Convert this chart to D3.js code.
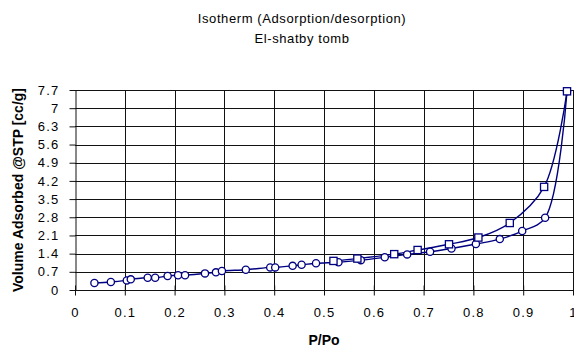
<!DOCTYPE html>
<html>
<head>
<meta charset="utf-8">
<script src="https://cdn.jsdelivr.net/npm/d3@7"></script>
<style>
  body { margin: 0; background: #fff; }
  svg { display: block; font-family: "Liberation Sans", Arial, sans-serif; }
</style>
</head>
<body>
<svg id="chart" width="574" height="347"></svg>
<script>
// ---- data ----
const titleLines = ["Isotherm (Adsorption/desorption)", "El-shatby tomb"];
const xTitle = "P/Po";
const yTitle = "Volume Adsorbed @STP [cc/g]";

const adsP = [0.039, 0.072, 0.104, 0.112, 0.146, 0.161, 0.186, 0.207, 0.221, 0.261,
              0.283, 0.295, 0.343, 0.392, 0.402, 0.437, 0.455, 0.484, 0.529, 0.574,
              0.622, 0.667, 0.713, 0.756, 0.805, 0.853, 0.898, 0.944, 0.988];
const adsV = [0.27, 0.31, 0.37, 0.41, 0.47, 0.47, 0.54, 0.57, 0.57, 0.64,
              0.68, 0.73, 0.78, 0.87, 0.87, 0.93, 0.97, 1.03, 1.07, 1.15,
              1.26, 1.37, 1.47, 1.60, 1.77, 1.96, 2.27, 2.78, 7.65];

const desP = [0.988, 0.942, 0.873, 0.810, 0.751, 0.688, 0.641, 0.567, 0.519];
const desV = [7.65, 3.97, 2.58, 2.02, 1.76, 1.54, 1.38, 1.21, 1.12];

const xTicks = [0, 0.1, 0.2, 0.3, 0.4, 0.5, 0.6, 0.7, 0.8, 0.9, 1];
const xTickLabels = ["0", "0.1", "0.2", "0.3", "0.4", "0.5", "0.6", "0.7", "0.8", "0.9", "1"];
const yTicks = [0, 0.7, 1.4, 2.1, 2.8, 3.5, 4.2, 4.9, 5.6, 6.3, 7, 7.7];
const yTickLabels = ["0", "0.7", "1.4", "2.1", "2.8", "3.5", "4.2", "4.9", "5.6", "6.3", "7", "7.7"];

// ---- layout ----
const svg = d3.select("#chart");
const plotL = 75, plotR = 573, plotT = 90, plotB = 290;
const navy = "#000080";
const fontFam = "'Liberation Sans', Arial, sans-serif";

const x = d3.scaleLinear().domain([0, 1]).range([plotL, plotR]);
const y = d3.scaleLinear().domain([0, 7.7]).range([plotB, plotT]);

// gridlines
const grid = svg.append("g").attr("stroke", "#111").attr("stroke-width", 1).attr("shape-rendering", "crispEdges");
grid.selectAll(".h").data(yTicks.slice(1)).join("line")
  .attr("x1", plotL).attr("x2", 574)
  .attr("y1", d => Math.round(y(d)) + 0.5).attr("y2", d => Math.round(y(d)) + 0.5);
grid.selectAll(".v").data(xTicks.slice(1)).join("line")
  .attr("y1", plotT).attr("y2", plotB)
  .attr("x1", d => Math.round(x(d)) + 0.5).attr("x2", d => Math.round(x(d)) + 0.5);

// axes
const xAxis = d3.axisBottom(x).tickValues(xTicks)
  .tickFormat((d, i) => xTickLabels[i]).tickSizeInner(5).tickSizeOuter(0).tickPadding(12);
const gx = svg.append("g").attr("transform", `translate(0,${plotB + 0.5})`).call(xAxis);
gx.select(".domain").attr("stroke", "#111").attr("d", `M${plotL},0H${574}`);
gx.selectAll(".tick line").attr("stroke", "#111").attr("y1", -5).attr("y2", 5);
gx.selectAll(".tick text").attr("font-size", 13).attr("fill", "#000")
  .attr("font-family", fontFam).attr("letter-spacing", "1.2px");

const yAxis = d3.axisLeft(y).tickValues(yTicks)
  .tickFormat((d, i) => yTickLabels[i]).tickSizeInner(6).tickSizeOuter(0).tickPadding(10);
const gy = svg.append("g").attr("transform", `translate(${plotL + 0.5},0)`).call(yAxis);
gy.select(".domain").attr("stroke", "#111");
gy.selectAll(".tick line").attr("stroke", "#111");
gy.selectAll(".tick text").attr("font-size", 13).attr("fill", "#000")
  .attr("font-family", fontFam).attr("letter-spacing", "1.2px");

// lines
const line = d3.line().x(d => x(d[0])).y(d => y(d[1])).curve(d3.curveCatmullRom.alpha(0.5));
const ads = adsP.map((p, i) => [p, adsV[i]]);
const des = desP.map((p, i) => [p, desV[i]]);

svg.append("path").datum(ads).attr("d", line)
  .attr("fill", "none").attr("stroke", navy).attr("stroke-width", 1.4);
svg.append("path").datum(des).attr("d", line)
  .attr("fill", "none").attr("stroke", navy).attr("stroke-width", 1.4);

// markers
svg.append("g").selectAll("circle").data(ads).join("circle")
  .attr("cx", d => x(d[0])).attr("cy", d => y(d[1])).attr("r", 3.6)
  .attr("fill", "#fff").attr("stroke", navy).attr("stroke-width", 1.3);
svg.append("g").selectAll("rect").data(des).join("rect")
  .attr("x", d => x(d[0]) - 3.6).attr("y", d => y(d[1]) - 3.6)
  .attr("width", 7.2).attr("height", 7.2)
  .attr("fill", "#fff").attr("stroke", navy).attr("stroke-width", 1.3);

// titles
svg.append("g").selectAll("text").data(titleLines).join("text")
  .attr("x", 302).attr("y", (d, i) => 23 + i * 20)
  .attr("text-anchor", "middle").attr("font-size", 13).attr("fill", "#000")
  .attr("letter-spacing", "0.6px")
  .text(d => d);

svg.append("text").attr("x", x(0.5)).attr("y", 345)
  .attr("text-anchor", "middle").attr("font-size", 14).attr("font-weight", "bold")
  .text(xTitle);

svg.append("text").attr("transform", `translate(23,${(plotT + plotB) / 2}) rotate(-90)`)
  .attr("text-anchor", "middle").attr("font-size", 14).attr("font-weight", "bold")
  .text(yTitle);
</script>
</body>
</html>
